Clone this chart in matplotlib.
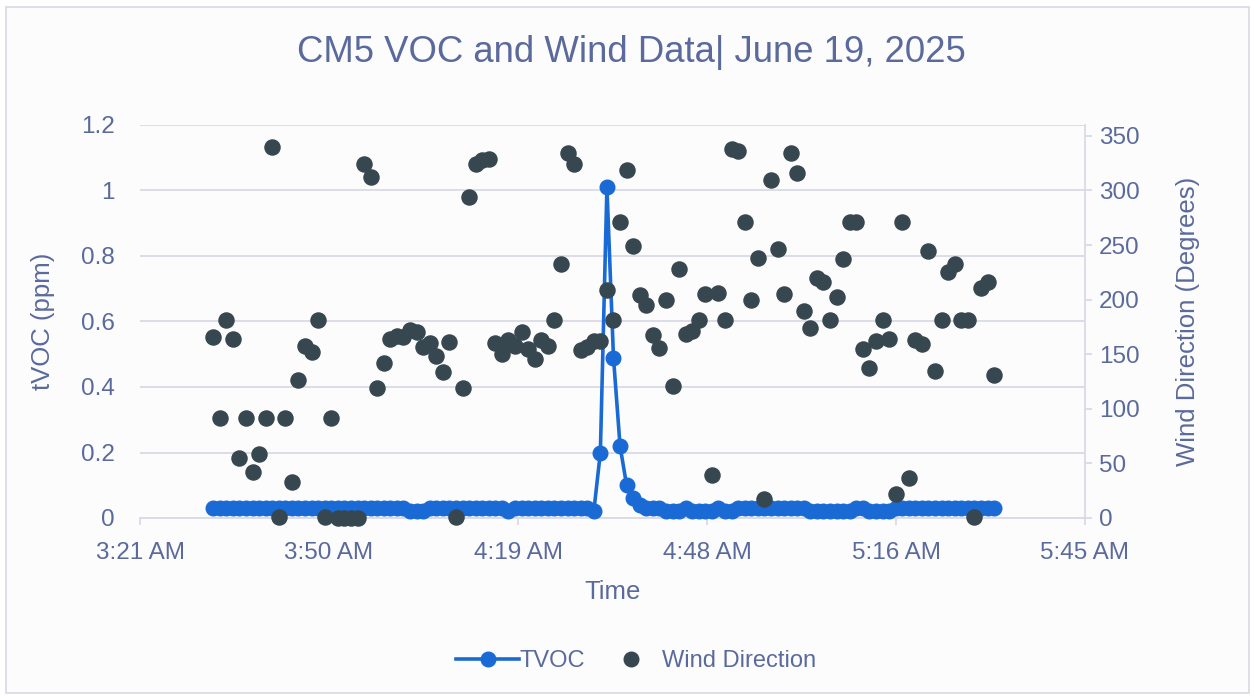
import numpy as np
import pandas as pd
import matplotlib
matplotlib.use("Agg")
import matplotlib.pyplot as plt
import matplotlib.dates as mdates
from matplotlib.lines import Line2D
from matplotlib.patches import Rectangle

# one reading per minute
start_time = "2025-06-19 03:32:45"
n_readings = 120

tvoc_ppm = [
    0.03, 0.03, 0.03, 0.03, 0.03, 0.03, 0.03, 0.03, 0.03, 0.03,
    0.03, 0.03, 0.03, 0.03, 0.03, 0.03, 0.03, 0.03, 0.03, 0.03,
    0.03, 0.03, 0.03, 0.03, 0.03, 0.03, 0.03, 0.03, 0.03, 0.03,
    0.02, 0.02, 0.02, 0.03, 0.03, 0.03, 0.03, 0.03, 0.03, 0.03,
    0.03, 0.03, 0.03, 0.03, 0.03, 0.02, 0.03, 0.03, 0.03, 0.03,
    0.03, 0.03, 0.03, 0.03, 0.03, 0.03, 0.03, 0.03, 0.02, 0.20,
    1.01, 0.49, 0.22, 0.10, 0.06, 0.04, 0.03, 0.03, 0.03, 0.02,
    0.02, 0.02, 0.03, 0.02, 0.02, 0.02, 0.02, 0.03, 0.02, 0.02,
    0.03, 0.03, 0.03, 0.03, 0.03, 0.03, 0.03, 0.03, 0.03, 0.03,
    0.03, 0.02, 0.02, 0.02, 0.02, 0.02, 0.02, 0.02, 0.03, 0.03,
    0.02, 0.02, 0.02, 0.02, 0.03, 0.03, 0.03, 0.03, 0.03, 0.03,
    0.03, 0.03, 0.03, 0.03, 0.03, 0.03, 0.03, 0.03, 0.03, 0.03,
]

wind_deg = [
    166, 92, 181, 164, 55, 92, 42, 59, 92, 340,
    1, 92, 33, 126, 158, 152, 181, 1, 92, 0,
    0, 0, 0, 324, 312, 119, 142, 164, 167, 166,
    172, 170, 157, 160, 148, 134, 161, 1, 119, 294,
    324, 328, 329, 160, 150, 163, 158, 170, 155, 146,
    163, 158, 181, 233, 334, 324, 154, 157, 162, 162,
    209, 181, 271, 319, 249, 204, 195, 168, 156, 200,
    121, 228, 169, 171, 181, 205, 39, 206, 181, 338,
    336, 271, 200, 238, 17, 310, 246, 205, 334, 316,
    190, 174, 220, 216, 181, 202, 237, 271, 271, 155,
    137, 162, 181, 164, 22, 271, 37, 163, 159, 245,
    135, 181, 225, 233, 181, 181, 1, 211, 216, 131,
]

times = pd.date_range(start_time, periods=n_readings, freq="1min")

# excel date axis: 0.14 .. 0.24 days, major unit 0.02 days
x_ticks = [pd.Timestamp("2025-06-19") + pd.Timedelta(days=d)
           for d in [0.14, 0.16, 0.18, 0.20, 0.22, 0.24]]

text_col = '#5A6A9C'
grid_col = '#D9DAE6'
plt.rcParams['font.family'] = ['Liberation Sans', 'DejaVu Sans']

fig = plt.figure(figsize=(12.55, 6.96), dpi=100)
fig.patch.set_facecolor('white')
fig.patches.append(Rectangle((6 / 1255, 0.004), 1243 / 1255, 1 - 7 / 696 - 0.004,
                             transform=fig.transFigure, facecolor='#FCFCFC',
                             edgecolor='#D9D9E3', lw=1.2, zorder=-5))

ax = fig.add_axes([140 / 1255, 1 - 518 / 696, 945 / 1255, 393 / 696])
ax.set_facecolor('none')

ax.plot(times, tvoc_ppm, color='#1A6AD6', lw=2.6, marker='o', ms=10.5,
        zorder=3, clip_on=False)

ax2 = ax.twinx()
ax2.scatter(times, wind_deg, s=118, color='#37474F', zorder=3, clip_on=False)

ax.set_xlim(x_ticks[0], x_ticks[-1])
ax.set_xticks(x_ticks)
ax.xaxis.set_major_formatter(mdates.DateFormatter('%-I:%M %p'))

ax.set_ylim(0, 1.2)
ax.set_yticks(np.arange(0, 1.21, 0.2))
ax.set_yticklabels(['0', '0.2', '0.4', '0.6', '0.8', '1', '1.2'])
ax2.set_ylim(0, 360)
ax2.set_yticks(np.arange(0, 351, 50))

ax.grid(axis='y', color=grid_col, lw=1.3)
ax.set_axisbelow(True)

for a in (ax, ax2):
    for s in a.spines.values():
        s.set_visible(False)
ax.spines['bottom'].set_visible(True)
ax.spines['bottom'].set_color(grid_col)
ax.spines['bottom'].set_linewidth(1.3)
ax2.spines['right'].set_visible(True)
ax2.spines['right'].set_color(grid_col)
ax2.spines['right'].set_linewidth(1.3)

ax.tick_params(axis='x', colors=text_col, labelsize=17.5, length=5,
               color=grid_col, width=1.3, pad=12)
ax.tick_params(axis='y', colors=text_col, labelsize=17.5, length=0, pad=18)
ax2.tick_params(axis='y', colors=text_col, labelsize=17.5, length=5,
                color=grid_col, width=1.3, pad=5)

ax.set_xlabel('Time', fontsize=18.5, color=text_col, labelpad=12)
ax.set_ylabel('tVOC (ppm)', fontsize=18.5, color=text_col, labelpad=19)
ax2.set_ylabel('Wind Direction (Degrees)', fontsize=18.5, color=text_col,
               labelpad=26)

fig.text(0.503, 1 - 52 / 696, 'CM5 VOC and Wind Data| June 19, 2025',
         fontsize=26.3, color=text_col, ha='center', va='center')

handles = [
    Line2D([], [], color='#1A6AD6', lw=2.6, marker='o', ms=10.5),
    Line2D([], [], color='#37474F', lw=0, marker='o', ms=10.5),
]
fig.legend(handles, ['TVOC', 'Wind Direction'], loc='center',
           bbox_to_anchor=(0.507, 1 - 661 / 696), ncol=2, frameon=False,
           fontsize=17, labelcolor=text_col, handlelength=2.67,
           columnspacing=0.62, handletextpad=0.0)

plt.savefig('out.png', dpi=100, facecolor=fig.get_facecolor())
